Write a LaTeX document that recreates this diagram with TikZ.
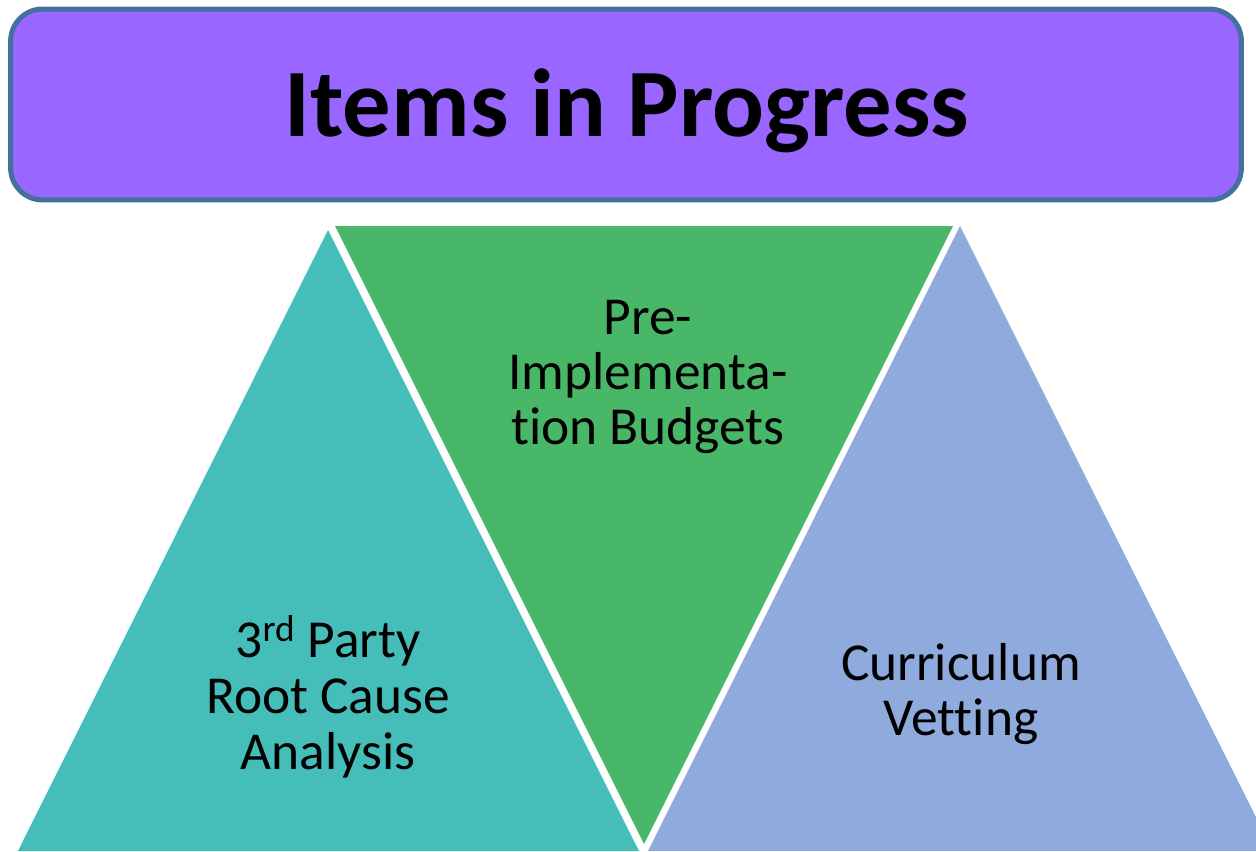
\documentclass[tikz,border=0pt]{standalone}
\usepackage{fontspec}
\setmainfont{Carlito}[Ligatures=NoCommon]
\usepackage{tikz}
\definecolor{bannerfill}{HTML}{9966FF}
\definecolor{bannerline}{HTML}{41719C}
\definecolor{tealtri}{HTML}{45BDB9}
\definecolor{greentri}{HTML}{48B767}
\definecolor{bluetri}{HTML}{8FAADC}
\tikzset{
	x=0.02cm, y=-0.02cm, % one unit is one pixel, y runs downwards
	banner/.style={draw=bannerline, fill=bannerfill, line width=0.1cm, rounded corners=0.64cm,
		minimum width=24.62cm, minimum height=3.82cm}, % the purple heading box
	heading/.style={font=\fontsize{55pt}{66pt}\selectfont\bfseries, anchor=base},
	item/.style={font=\fontsize{30.4pt}{31.2pt}\selectfont, align=center}, % text in the triangles
}

\begin{document}
\begin{tikzpicture}
	\useasboundingbox (0,0) rectangle (1256,851);
	
	\node[banner] (banner) at (626,104.5) {};
	\node[heading] (title) at (627,137) {Items in Progress};
	
	\begin{scope}
		\clip (0,0) rectangle (1256,851);
		\fill[tealtri] (18,851) -- (328,230) -- (639,851) -- cycle;
		\fill[greentri] (335,226) -- (953,226) -- (644,844) -- cycle;
		\fill[bluetri] (648,851) -- (960,226) -- (1273,851) -- cycle;
	\end{scope}
	
	\node[item, font=\fontsize{30.4pt}{32pt}\selectfont] (rca) at (328,697) {3\textsuperscript{rd} Party\\Root Cause\\Analysis};
	\node[item] (budgets) at (648,377) {Pre-\\Implementa-\\tion Budgets};
	\node[item] (vetting) at (961,694) {Curriculum\\Vetting};
	
\end{tikzpicture}
\end{document}
